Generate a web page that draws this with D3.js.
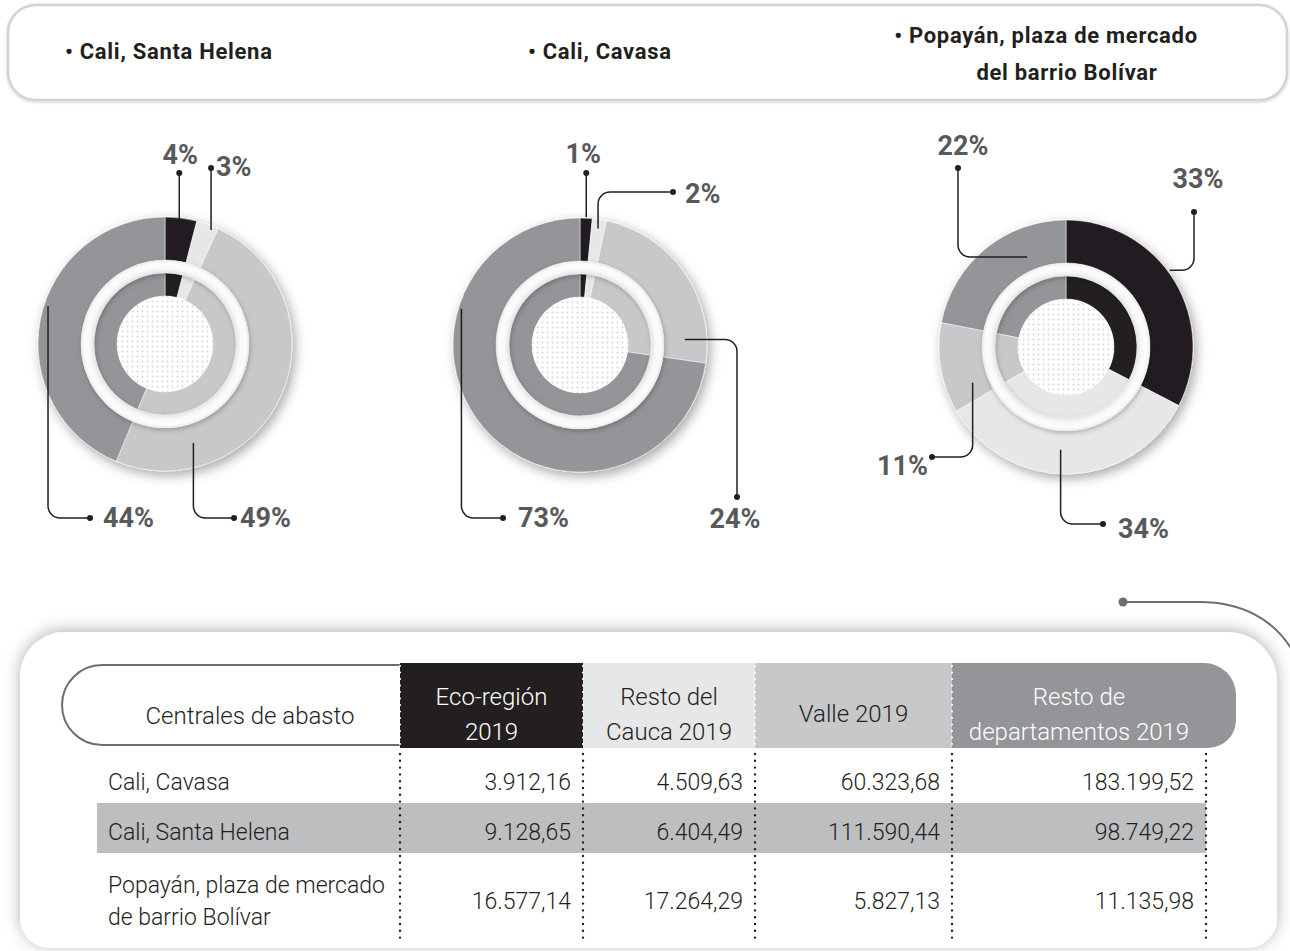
<!DOCTYPE html>
<html>
<head>
<meta charset="utf-8">
<script src="https://cdn.jsdelivr.net/npm/d3@7"></script>
<style>
  body { margin: 0; background: #fff; }
  svg text { font-family: Roboto, "Noto Sans", sans-serif; }
</style>
</head>
<body>
<script>
var w = 1290,
  h = 951;

// table data (the donuts are drawn from the same rows)
var centrales = [['Cali, Cavasa'], ['Cali, Santa Helena'], ['Popayán, plaza de mercado', 'de barrio Bolívar']];
var series = [['Eco-región', '2019'], ['Resto del', 'Cauca 2019'], ['Valle 2019'], ['Resto de', 'departamentos 2019']];
var ecoRegion = [3912.16, 9128.65, 16577.14];
var restoCauca = [4509.63, 6404.49, 17264.29];
var valle = [60323.68, 111590.44, 5827.13];
var restoDept = [183199.52, 98749.22, 11135.98];

// donuts, left to right
var donutRows = [1, 0, 2];
var donutTitles = [['• Cali, Santa Helena'], ['• Cali, Cavasa'], ['• Popayán, plaza de mercado', 'del barrio Bolívar']];
var pctLabels = [['4%', '3%', '49%', '44%'], ['1%', '2%', '24%', '73%'], ['33%', '34%', '11%', '22%']];

var colors = ['#231f20', '#e6e7e8', '#c7c8ca', '#939598'];
var tableCols = [ecoRegion, restoCauca, valle, restoDept];

var es = d3.formatLocale({ decimal: ',', thousands: '.', grouping: [3], currency: ['', ''] });
var fmt = es.format(',.2f');

var body = d3.select('body');
var svg = body.append('svg')
  .attr('width', w)
  .attr('height', h)

var defs = svg.append('defs');

var sh = defs.append('filter').attr('id', 'shadow')
  .attr('x', '-20%').attr('y', '-20%').attr('width', '140%').attr('height', '140%');
sh.append('feDropShadow').attr('dx', 3).attr('dy', 4).attr('stdDeviation', 6)
  .attr('flood-color', '#000').attr('flood-opacity', 0.35);

var psh = defs.append('filter').attr('id', 'panelShadow')
  .attr('x', '-5%').attr('y', '-15%').attr('width', '110%').attr('height', '130%');
psh.append('feDropShadow').attr('dx', 0).attr('dy', -2).attr('stdDeviation', 8)
  .attr('flood-color', '#000').attr('flood-opacity', 0.3);

var hsh = defs.append('filter').attr('id', 'boxShadow')
  .attr('x', '-5%').attr('y', '-30%').attr('width', '110%').attr('height', '160%');
hsh.append('feDropShadow').attr('dx', 0).attr('dy', 1).attr('stdDeviation', 1.5)
  .attr('flood-color', '#000').attr('flood-opacity', 0.2);

var gsh = defs.append('filter').attr('id', 'gapShadow')
  .attr('x', '-20%').attr('y', '-20%').attr('width', '140%').attr('height', '140%');
gsh.append('feDropShadow').attr('dx', 1).attr('dy', 2).attr('stdDeviation', 2.5)
  .attr('flood-color', '#000').attr('flood-opacity', 0.25);

var pat = defs.append('pattern').attr('id', 'dots')
  .attr('width', 5).attr('height', 5).attr('patternUnits', 'userSpaceOnUse');
pat.append('rect').attr('width', 5).attr('height', 5).attr('fill', '#fff');
pat.append('circle').attr('cx', 2.5).attr('cy', 2.5).attr('r', 0.9).attr('fill', '#d4d4d4');

var rg = defs.append('radialGradient').attr('id', 'gap');
[[0.84, '#e2e2e2'], [0.9, '#f8f8f8'], [0.96, '#fcfcfc'], [1, '#ebebeb']].forEach(function (s) {
  rg.append('stop').attr('offset', s[0]).attr('stop-color', s[1]);
});

function roundRect(x0, y0, x1, y1, rtl, rtr, rbr, rbl) {
  var p = d3.path();
  p.moveTo(x0 + rtl, y0);
  p.lineTo(x1 - rtr, y0);
  p.arcTo(x1, y0, x1, y0 + rtr, rtr);
  p.lineTo(x1, y1 - rbr);
  p.arcTo(x1, y1, x1 - rbr, y1, rbr);
  p.lineTo(x0 + rbl, y1);
  p.arcTo(x0, y1, x0, y1 - rbl, rbl);
  p.lineTo(x0, y0 + rtl);
  p.arcTo(x0, y0, x0 + rtl, y0, rtl);
  p.closePath();
  return p.toString();
}

// title box
svg.append('path')
  .attr('d', roundRect(8, 5, 1287, 100, 28, 28, 28, 28))
  .attr('fill', '#fff')
  .attr('stroke', '#d1d3d4')
  .attr('stroke-width', 2.5)
  .attr('filter', 'url(#boxShadow)')

var titleX = [[65], [528], [1046, 1067]];
var titleY = [[59], [59], [43, 80]];
var titleAnchor = ['start', 'start', 'middle'];
donutTitles.forEach(function (lines, k) {
  lines.forEach(function (t, j) {
    svg.append('text')
      .attr('x', titleX[k][j])
      .attr('y', titleY[k][j])
      .attr('text-anchor', titleAnchor[k])
      .attr('font-size', 22)
      .attr('font-weight', 700)
      .attr('letter-spacing', 0.7)
      .attr('fill', '#231f20')
      .text(t)
  })
})

// donuts
var donutX = d3.scaleOrdinal().domain([0, 1, 2]).range([165, 580, 1066]);
var donutY = d3.scaleOrdinal().domain([0, 1, 2]).range([344, 345, 347]);

var pie = d3.pie().sort(null).value(function (d) { return d; });
var outerArc = d3.arc().innerRadius(84).outerRadius(127);
var innerArc = d3.arc().innerRadius(48).outerRadius(71);

// leader placement: anchor angle/radius on the ring, dot offset from centre, label offset from dot
var leaders = [
  [
    { a: 6.5, r: 126, t: 'v', dy: -171, ta: 'middle', tx: 1, ty: -9 },
    { a: 22, r: 123, t: 'v', dy: -176, ta: 'start', tx: 5, ty: 8 },
    { a: 164, r: 103, t: 'vh', dx: 69, dy: 174, ta: 'start', tx: 6, ty: 9 },
    { a: 288, r: 123, t: 'vh', dx: -75, dy: 174, ta: 'start', tx: 13, ty: 9 }
  ],
  [
    { a: 2.8, r: 128, t: 'v', dy: -172, ta: 'middle', tx: -3, ty: -10 },
    { a: 8.8, r: 118, t: 'vh', dx: 93, dy: -153, ta: 'start', tx: 12, ty: 11 },
    { a: 87, r: 105, t: 'hv', dx: 157, dy: 152, ta: 'middle', tx: -2, ty: 31 },
    { a: 287, r: 124, t: 'vh', dx: -77, dy: 173, ta: 'start', tx: 15, ty: 9 }
  ],
  [
    { a: 53.5, r: 129, t: 'hv', dx: 128, dy: -135, ta: 'middle', tx: 4, ty: -24 },
    { a: 183, r: 103, t: 'vh', dx: 37, dy: 177, ta: 'start', tx: 15, ty: 14 },
    { a: 249, r: 100, t: 'vh', dx: -134, dy: 110, ta: 'end', tx: -4, ty: 18 },
    { a: 336.6, r: 98, t: 'hv', dx: -108, dy: -179, ta: 'middle', tx: 5, ty: -13 }
  ]
];

donutRows.forEach(function (row, k) {
  var cx = donutX(k), cy = donutY(k);
  var values = tableCols.map(function (c) { return c[row]; });
  var arcs = pie(values);

  var g = svg.append('g').attr('transform', 'translate(' + [cx, cy] + ')');

  g.append('g')
    .attr('filter', 'url(#shadow)')
    .selectAll('path')
    .data(arcs)
    .enter()
    .append('path')
    .attr('d', outerArc)
    .attr('fill', function (d, i) { return colors[i]; })
    .attr('stroke', '#fff')
    .attr('stroke-width', 0.5)

  g.selectAll('.inner')
    .data(arcs)
    .enter()
    .append('path')
    .attr('class', 'inner')
    .attr('d', innerArc)
    .attr('fill', function (d, i) { return colors[i]; })
    .attr('stroke', '#fff')
    .attr('stroke-width', 0.5)

  g.append('path')
    .attr('d', d3.arc().innerRadius(71).outerRadius(84).startAngle(0).endAngle(2 * Math.PI)())
    .attr('fill', 'url(#gap)')
    .attr('filter', 'url(#gapShadow)')

  g.append('circle')
    .attr('r', 48)
    .attr('fill', 'url(#dots)')

  // leaders
  leaders[k].forEach(function (L, i) {
    var rad = L.a * Math.PI / 180;
    var ax = cx + L.r * Math.sin(rad), ay = cy - L.r * Math.cos(rad);
    var dx = L.t === 'v' ? ax : cx + L.dx, dy = cy + L.dy;
    var p = d3.path();
    p.moveTo(ax, ay);
    if (L.t === 'vh') p.arcTo(ax, dy, dx, dy, 12);
    if (L.t === 'hv') p.arcTo(dx, ay, dx, dy, 12);
    p.lineTo(dx, dy);
    svg.append('path')
      .attr('d', p.toString())
      .attr('fill', 'none')
      .attr('stroke', '#231f20')
      .attr('stroke-width', 1.5)
    svg.append('circle')
      .attr('cx', dx).attr('cy', dy).attr('r', 3)
      .attr('fill', '#231f20')
    svg.append('text')
      .attr('x', dx + L.tx)
      .attr('y', dy + L.ty)
      .attr('text-anchor', L.ta)
      .attr('font-size', 27)
      .attr('font-weight', 700)
      .attr('fill', '#58595b')
      .text(pctLabels[k][i])
  })
})

// table panel
svg.append('path')
  .attr('d', roundRect(20, 632, 1277, 948, 45, 50, 30, 30))
  .attr('fill', '#fff')
  .attr('filter', 'url(#panelShadow)')

var deco = d3.path();
deco.moveTo(1123, 602);
deco.lineTo(1200, 602);
deco.bezierCurveTo(1240, 602, 1275, 618, 1295, 655);
svg.append('path')
  .attr('d', deco.toString())
  .attr('fill', 'none')
  .attr('stroke', '#6d6e71')
  .attr('stroke-width', 2)
svg.append('circle').attr('cx', 1123).attr('cy', 602).attr('r', 4.5).attr('fill', '#6d6e71')

var colEdge = [400, 583, 755, 952, 1236];
var sepX = [400, 583, 755, 952, 1206];
var headTop = 663, headBot = 748;

// header: first column pill
var pill = d3.path();
pill.moveTo(400, 665);
pill.lineTo(102, 665);
pill.arcTo(62, 665, 62, 705, 40);
pill.arcTo(62, 745, 102, 745, 40);
pill.lineTo(400, 745);
svg.append('path')
  .attr('d', pill.toString())
  .attr('fill', 'none')
  .attr('stroke', '#6d6e71')
  .attr('stroke-width', 2)
svg.append('text')
  .attr('x', 250).attr('y', 724)
  .attr('text-anchor', 'middle')
  .attr('font-size', 24).attr('font-weight', 300)
  .attr('fill', '#231f20')
  .text('Centrales de abasto')

var headText = ['#fff', '#231f20', '#231f20', '#fff'];
series.forEach(function (lines, i) {
  var x0 = colEdge[i], x1 = colEdge[i + 1];
  svg.append('path')
    .attr('d', roundRect(x0, headTop, x1, headBot, 0, i === 3 ? 32 : 0, i === 3 ? 28 : 0, 0))
    .attr('fill', colors[i])
  var tx = (sepX[i] + sepX[i + 1]) / 2;
  lines.forEach(function (t, j) {
    svg.append('text')
      .attr('x', tx)
      .attr('y', lines.length === 1 ? 722 : 705 + j * 35)
      .attr('text-anchor', 'middle')
      .attr('font-size', 24).attr('font-weight', 300)
      .attr('fill', headText[i])
      .text(t)
  })
})

// striped row
var rowCenter = [782, 832, 901];
svg.append('rect')
  .attr('x', 97).attr('y', 803)
  .attr('width', 1206 - 97).attr('height', 50)
  .attr('fill', '#bcbec0')

// dotted separators
sepX.forEach(function (x, i) {
  if (i < 4) {
    svg.append('line')
      .attr('x1', x).attr('x2', x).attr('y1', headTop + 3).attr('y2', headBot - 2)
      .attr('stroke', '#fff').attr('stroke-width', 2.2)
      .attr('stroke-linecap', 'round').attr('stroke-dasharray', '0 6.5')
  }
  svg.append('line')
    .attr('x1', x).attr('x2', x).attr('y1', headBot + 6).attr('y2', 940)
    .attr('stroke', '#231f20').attr('stroke-width', 2.4)
    .attr('stroke-linecap', 'round').attr('stroke-dasharray', '0 6.8')
})

centrales.forEach(function (lines, r) {
  var cy = rowCenter[r];
  lines.forEach(function (t, j) {
    svg.append('text')
      .attr('x', 108)
      .attr('y', cy + 8 + (j - (lines.length - 1) / 2) * 32)
      .attr('font-size', 23).attr('font-weight', 300)
      .attr('fill', '#231f20')
      .text(t)
  })
  tableCols.forEach(function (col, i) {
    svg.append('text')
      .attr('x', sepX[i + 1] - 12)
      .attr('y', cy + 8)
      .attr('text-anchor', 'end')
      .attr('font-size', 23).attr('font-weight', 300)
      .attr('fill', '#231f20')
      .text(fmt(col[r]))
  })
})
</script>
</body>
</html>
